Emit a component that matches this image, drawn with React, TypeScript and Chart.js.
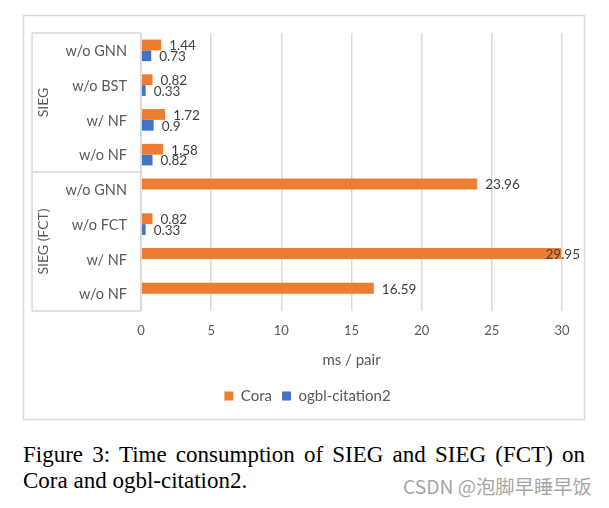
import React, { useEffect, useRef } from "react";
import { Chart, registerables } from "chart.js";

Chart.register(...registerables);

// ---------------- data ----------------
const categories = ["w/o GNN", "w/o BST", "w/ NF", "w/o NF", "w/o GNN", "w/o FCT", "w/ NF", "w/o NF"];
const groupNames = ["SIEG", "SIEG (FCT)"];
const groupSizes = [4, 4];
const seriesNames = ["Cora", "ogbl-citation2"];
const coraValues = [1.44, 0.82, 1.72, 1.58, 23.96, 0.82, 29.95, 16.59];
const ogblValues: (number | null)[] = [0.73, 0.33, 0.9, 0.82, null, 0.33, null, null];
const xMin = 0;
const xMax = 30;
const xStep = 5;
const xTitle = "ms / pair";
const captionText = "Figure 3: Time consumption of SIEG and SIEG (FCT) on Cora and ogbl-citation2.";
const watermarkText = "CSDN @泡脚早睡早饭";

// ---------------- styles ----------------
const ORANGE = "#ED7D31";
const BLUE = "#4472C4";
const TEXT = "#595959";
const LABEL = "#404040";
const LINE = "#d9d9d9";
const FONT = "Lato";

const decorPlugin = {
  id: "decor",
  beforeDraw(chart: any) {
    const ctx = chart.ctx;
    ctx.save();
    ctx.fillStyle = "#ffffff";
    ctx.fillRect(0, 0, chart.width, chart.height);
    ctx.strokeStyle = LINE;
    ctx.lineWidth = 1.5;
    ctx.strokeRect(23.5, 15.5, 561, 404);
    ctx.restore();
  },
  afterDraw(chart: any) {
    const ctx = chart.ctx;
    const y = chart.scales.y;
    const ca = chart.chartArea;
    const xL = 32;
    const xR = ca.left;
    ctx.save();
    ctx.strokeStyle = LINE;
    ctx.lineWidth = 1.5;
    ctx.beginPath();
    ctx.moveTo(xL, ca.top);
    ctx.lineTo(xR, ca.top);
    ctx.moveTo(xL, ca.bottom);
    ctx.lineTo(xR, ca.bottom);
    ctx.moveTo(xL, ca.top);
    ctx.lineTo(xL, ca.bottom);
    ctx.moveTo(xR, ca.top);
    ctx.lineTo(xR, ca.bottom);
    let idx = 0;
    const bounds: number[] = [];
    groupSizes.forEach((n) => {
      const start = idx;
      idx += n;
      const top = start === 0 ? ca.top : (y.getPixelForTick(start - 1) + y.getPixelForTick(start)) / 2;
      const bot = idx >= categories.length ? ca.bottom : (y.getPixelForTick(idx - 1) + y.getPixelForTick(idx)) / 2;
      bounds.push(top, bot);
      if (idx < categories.length) {
        ctx.moveTo(xL, bot);
        ctx.lineTo(xR, bot);
      }
    });
    ctx.stroke();

    // category labels
    ctx.fillStyle = TEXT;
    ctx.font = `14.5px ${FONT}`;
    ctx.textAlign = "right";
    ctx.textBaseline = "middle";
    categories.forEach((c, i) => {
      ctx.fillText(c, 127, y.getPixelForTick(i) + 1);
    });

    // group labels
    ctx.font = `14px ${FONT}`;
    ctx.textAlign = "center";
    groupNames.forEach((g, i) => {
      const top = bounds[i * 2];
      const bot = bounds[i * 2 + 1];
      ctx.save();
      ctx.translate(43, (top + bot) / 2);
      ctx.rotate(-Math.PI / 2);
      ctx.fillText(g, 0, 0);
      ctx.restore();
    });
    ctx.restore();
  },
  afterDatasetsDraw(chart: any) {
    const ctx = chart.ctx;
    ctx.save();
    ctx.fillStyle = LABEL;
    ctx.font = `13.5px ${FONT}`;
    ctx.textAlign = "left";
    ctx.textBaseline = "middle";
    chart.data.datasets.forEach((ds: any, di: number) => {
      const meta = chart.getDatasetMeta(di);
      meta.data.forEach((el: any, i: number) => {
        const v = ds.data[i];
        if (v === null || v === undefined) return;
        const t = String(v);
        const w = ctx.measureText(t).width;
        let x = el.x + 8;
        if (x + w > 580) x = 580 - w;
        ctx.fillText(t, x, el.y + 1);
      });
    });
    ctx.restore();
  },
};

export default function App() {
  const ref = useRef<HTMLCanvasElement | null>(null);

  useEffect(() => {
    if (!ref.current) return;
    const chart = new Chart(ref.current, {
      type: "bar",
      data: {
        labels: categories,
        datasets: [
          {
            label: seriesNames[0],
            data: coraValues,
            backgroundColor: ORANGE,
            borderWidth: 0,
            categoryPercentage: 0.62,
            barPercentage: 1.0,
          },
          {
            label: seriesNames[1],
            data: ogblValues,
            backgroundColor: BLUE,
            borderWidth: 0,
            categoryPercentage: 0.62,
            barPercentage: 1.0,
          },
        ],
      },
      options: {
        indexAxis: "y",
        responsive: false,
        animation: false,
        devicePixelRatio: 1,
        layout: { padding: { left: 53, right: 47, top: 33, bottom: 16.5 } },
        scales: {
          y: {
            display: true,
            grid: { display: false },
            border: { display: false },
            ticks: { display: false },
            afterFit: (s: any) => {
              s.width = 88;
            },
          },
          x: {
            min: xMin,
            max: xMax,
            grid: { color: LINE, lineWidth: 1.5, drawTicks: false },
            border: { display: false },
            ticks: {
              stepSize: xStep,
              padding: 12,
              color: TEXT,
              font: { family: FONT, size: 13 },
            },
            title: {
              display: true,
              text: xTitle,
              color: TEXT,
              font: { family: FONT, size: 15 },
              padding: { top: 0, bottom: 9 },
            },
            afterFit: (s: any) => {
              s.height = 67.5;
            },
          },
        },
        plugins: {
          legend: {
            display: true,
            position: "bottom",
            labels: {
              boxWidth: 9,
              boxHeight: 9,
              padding: 10,
              color: TEXT,
              font: { family: FONT, size: 15 },
            },
          },
          tooltip: { enabled: false },
        },
      },
      plugins: [decorPlugin],
    } as any);
    return () => chart.destroy();
  }, []);

  return (
    <div style={{ position: "fixed", left: 0, top: 0, width: 609, height: 508, background: "#fff" }}>
      <canvas ref={ref} width={609} height={430} style={{ display: "block", position: "absolute", left: 0, top: 0 }} />
      <div
        style={{
          position: "absolute",
          left: 23,
          top: 442,
          width: 562,
          fontFamily: "'Liberation Serif', 'Times New Roman', serif",
          fontSize: 23,
          lineHeight: "26px",
          textAlign: "justify",
          color: "#000",
        }}
      >
        {captionText}
      </div>
      <div
        style={{
          position: "absolute",
          left: 403,
          top: 477,
          fontFamily: "'Noto Sans CJK SC', 'Noto Sans', sans-serif",
          fontSize: 19.3,
          lineHeight: 1,
          color: "#a6a6a6",
          whiteSpace: "nowrap",
        }}
      >
        {watermarkText}
      </div>
    </div>
  );
}
